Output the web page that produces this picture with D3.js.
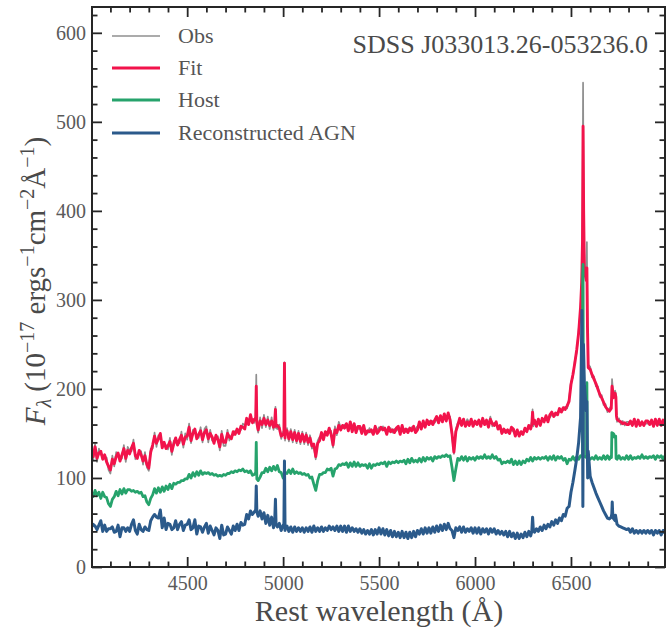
<!DOCTYPE html>
<html>
<head>
<meta charset="utf-8">
<script src="https://cdn.jsdelivr.net/npm/d3@7"></script>
<style>
  body { margin: 0; background: #fff; }
  svg { display: block; }
</style>
</head>
<body>
<svg id="chart" width="666" height="635"></svg>
<script>
// Spectrum sampled every 10 Å from 4000 Å; one row per 100 Å.
const gridStart = 4000;
const gridStep = 10;

const obsFlux = [
  136,120,138,118,133,126,125,122,123,109, // 4000
  105,125,113,129,124,123,122,137,118,135, // 4100
  131,130,143,121,126,127,130,115,129,112, // 4200
  108,133,133,151,135,148,146,138,136,137, // 4300
  132,145,126,142,141,141,139,152,134,150, // 4400
  143,161,139,154,151,148,145,157,140,155, // 4500
  158,140,154,142,143,144,147,131,153,136, // 4600
  136,154,142,148,148,153,151,154,154,161, // 4700
  159,163,164,167,166,162,216,151,168,156, // 4800
  171,157,169,155,168,154,180,155,160,144, // 4900
  152,142,156,141,155,140,154,139,153,138, // 5000
  152,138,151,137,148,133,135,121,142,146, // 5100
  148,147,149,152,153,153,134,158,148,163, // 5200
  157,156,160,158,157,160,156,158,155,155, // 5300
  155,154,156,153,150,156,151,153,155,154, // 5400
  157,154,158,153,153,154,156,151,155,153, // 5500
  155,153,156,155,152,155,153,157,155,155, // 5600
  158,160,159,161,161,162,164,161,164,162, // 5700
  166,166,167,167,169,168,170,169,147,127, // 5800
  155,162,164,162,163,161,166,162,163,161, // 5900
  161,163,162,161,164,163,162,160,169,158, // 6000
  162,160,158,156,153,152,154,151,153,154, // 6100
  152,150,151,150,149,152,153,155,156,158, // 6200
  177,162,161,163,162,164,166,167,166,168, // 6300
  171,172,170,174,175,177,176,180,178,189, // 6400
  208,213,232,241,266,289,368,335,325,227, // 6500
  225,213,214,203,203,191,193,182,183,174, // 6600
  178,181,193,198,163,167,160,164,159,163, // 6700
  163,161,162,163,161,162,162,160,162,161, // 6800
  161,163,162,161,163,162,163,162,162,162  // 6900
];

const fitFlux = [
  131,124,135,122,128,130,121,126,118,113, // 4000
  109,121,116,124,128,119,126,133,122,131, // 4100
  127,134,139,125,122,131,126,119,125,115, // 4200
  111,129,137,147,139,144,150,134,140,133, // 4300
  136,141,130,138,145,137,143,148,138,146, // 4400
  147,157,142,150,155,144,149,153,143,151, // 4500
  154,144,150,146,139,148,143,135,149,140, // 4600
  140,150,146,144,152,149,155,150,158,157, // 4700
  155,167,160,171,162,166,203,154,164,160, // 4800
  167,160,165,159,164,157,177,159,156,147, // 4900
  149,145,153,144,152,143,151,142,150,141, // 5000
  149,141,148,140,145,136,138,124,139,142, // 5100
  151,143,152,148,156,149,137,154,151,159, // 5200
  154,159,156,161,153,163,152,161,151,158, // 5300
  158,150,159,149,153,152,154,149,158,150, // 5400
  153,157,154,156,149,157,152,154,151,156, // 5500
  158,149,159,151,155,151,156,153,158,151, // 5600
  154,163,155,164,157,165,160,164,160,165, // 5700
  169,162,170,163,172,164,173,165,150,129, // 5800
  152,159,167,159,166,158,163,159,166,158, // 5900
  164,160,165,158,167,160,165,157,166,161, // 6000
  159,163,155,159,150,155,151,154,150,157, // 6100
  155,147,154,147,152,149,156,152,159,155, // 6200
  174,165,158,166,159,167,163,170,163,171, // 6300
  174,169,173,171,178,174,179,177,181,186, // 6400
  205,216,229,244,263,292,365,332,322,224, // 6500
  222,216,211,206,200,194,190,185,180,177, // 6600
  175,178,190,195,166,164,163,161,162,160, // 6700
  160,164,159,166,158,165,159,163,159,164, // 6800
  164,160,165,158,166,159,166,159,165,159  // 6900
];

const hostFlux = [
  85,79,86,80,84,77,84,79,78,71,           // 4000
  68,76,79,85,80,87,82,88,83,87,           // 4100
  87,85,86,84,85,83,84,79,80,73,           // 4200
  70,77,81,88,83,89,84,90,85,91,           // 4300
  87,93,88,94,93,95,95,97,97,99,           // 4400
  99,104,100,106,102,107,103,108,104,106,  // 4500
  105,106,104,105,103,104,102,103,102,104, // 4600
  103,105,105,107,106,108,107,109,108,110, // 4700
  107,108,106,108,103,104,140,97,101,106,  // 4800
  106,111,107,112,108,113,109,114,107,106, // 4900
  100,106,105,109,105,110,105,107,105,106, // 5000
  104,105,103,104,100,101,93,86,97,104,    // 5100
  104,106,106,110,109,111,102,110,111,115, // 5200
  114,116,115,117,112,117,113,118,113,117, // 5300
  113,115,114,115,111,116,111,115,114,116, // 5400
  115,117,116,118,113,118,116,118,117,119, // 5500
  117,119,118,120,116,121,117,122,118,120, // 5600
  118,122,118,123,119,123,121,123,119,124, // 5700
  122,124,123,125,124,126,124,125,112,97,  // 5800
  110,122,120,124,120,124,119,123,121,123, // 5900
  120,124,122,124,122,126,122,124,122,126, // 6000
  122,124,120,121,116,118,117,119,117,121, // 6100
  115,119,115,119,115,119,117,121,119,123, // 6200
  119,123,121,123,121,123,122,124,120,124, // 6300
  121,125,120,124,122,124,120,122,116,121, // 6400
  120,124,120,124,121,125,124,124,123,122, // 6500
  121,123,121,125,121,123,121,125,121,125, // 6600
  121,125,150,147,121,125,121,123,121,125, // 6700
  121,125,121,123,122,124,122,126,122,124, // 6800
  122,124,123,125,121,125,123,125,121,125  // 6900
];

const agnFlux = [
  44,48,46,42,47,52,40,47,40,43,           // 4000
  43,45,39,40,47,34,44,44,40,44,           // 4100
  40,48,53,41,37,48,42,40,45,42,           // 4200
  41,52,56,59,56,55,64,44,55,42,           // 4300
  49,48,42,44,52,42,48,51,41,47,           // 4400
  48,53,42,44,53,37,46,45,39,45,           // 4500
  49,38,46,41,36,44,41,32,47,36,           // 4600
  37,45,41,37,46,41,48,41,50,47,           // 4700
  48,59,54,63,59,62,91,57,63,54,           // 4800
  61,49,58,47,56,44,76,45,49,41,           // 4900
  47,41,46,40,45,39,45,40,44,40,           // 5000
  44,39,44,40,45,39,46,40,44,40,           // 5100
  45,40,44,41,46,42,45,41,46,40,           // 5200
  46,40,46,39,46,40,44,40,43,39,           // 5300
  43,38,42,37,41,37,42,36,42,37,           // 5400
  44,37,43,36,42,35,41,34,40,34,           // 5500
  39,33,40,33,39,32,39,33,40,34,           // 5600
  41,37,43,37,44,38,44,38,45,39,           // 5700
  46,40,47,41,48,42,49,43,41,33,           // 5800
  44,41,45,39,45,39,43,40,44,38,           // 5900
  44,38,44,37,43,39,43,37,43,39,           // 6000
  43,37,41,37,40,36,40,34,40,34,           // 6100
  38,32,38,32,37,33,39,34,40,35,           // 6200
  56,39,43,40,45,41,47,43,48,45,           // 6300
  51,47,53,49,55,52,59,57,66,68,           // 6400
  84,95,108,122,140,168,230,205,175,130,   // 6500
  102,95,89,83,78,73,68,63,59,55,          // 6600
  54,56,55,52,48,46,45,44,43,42,           // 6700
  43,39,43,38,41,38,41,38,41,38,           // 6800
  41,38,41,36,41,38,41,36,41,38            // 6900
];

// Narrow lines (Hβ, [O III], [O I], Hα+[N II], [S II]) sampled between grid points: [Å, flux]
const obsLines = [
  [4857,168],[4863,160],[4956,163],[4963,156],[5004,152],[5007,230],[5010,148],
  [6296,163],[6304,158],[6556,325],[6563,544],[6566,405],[6583,365],[6586,275],
  [6714,211],[6718,200],[6726,197],[6734,194],[6737,172]
];
const fitLines = [
  [4857,165],[4863,162],[4956,162],[4963,158],[5004,150],[5007,229],[5010,150],
  [6296,160],[6304,161],[6556,320],[6563,495],[6566,400],[6583,336],[6586,270],
  [6714,203],[6718,197],[6726,194],[6734,191],[6737,170]
];
const hostLines = [
  [4857,106],[4863,99],
  [6561,330],[6563,340],[6565,125],[6581,123],[6583,207],[6585,123],
  [6711,123],[6713,151],[6724,149],[6726,146],[6733,147],[6735,122]
];
const agnLines = [
  [4857,64],[4863,62],[4956,51],[4963,48],[5004,45],[5007,119],[5010,44],
  [6296,40],[6304,41],[6557,288],[6562,68],[6565,250],[6583,186],[6587,100],
  [6713,60],[6715,73],[6717,62],[6732,58]
];

const seriesNames = ["Obs", "Fit", "Host", "Reconstructed AGN"];
const xTickValues = [4500, 5000, 5500, 6000, 6500];
const yTickValues = [0, 100, 200, 300, 400, 500, 600];
const objectName = "SDSS J033013.26-053236.0";

// ---- drawing ----
const colors = ["#8f8f8f", "#f2134b", "#26a36c", "#2b5a8b"];
const widths = [1.7, 2.9, 2.8, 3.0];

function spectrum(base, extra) {
  return base.map((f, i) => [gridStart + i * gridStep, f])
    .concat(extra)
    .sort((a, b) => a[0] - b[0]);
}
const series = [
  spectrum(obsFlux, obsLines),
  spectrum(fitFlux, fitLines),
  spectrum(hostFlux, hostLines),
  spectrum(agnFlux, agnLines)
];

const svg = d3.select("#chart");
const L = 92, R = 665, T = 7, B = 567;
const serif = "'Liberation Serif', 'DejaVu Serif', serif";

const x = d3.scaleLinear().domain([4004, 6990]).range([L, R]);
const y = d3.scaleLinear().domain([0, 629]).range([B, T]);

svg.append("defs").append("clipPath").attr("id", "plotclip")
  .append("rect").attr("x", L).attr("y", T).attr("width", R - L).attr("height", B - T);

const line = d3.line().x(d => x(d[0])).y(d => y(d[1]));
const plot = svg.append("g").attr("clip-path", "url(#plotclip)");
series.forEach((s, i) => {
  plot.append("path").datum(s)
    .attr("d", line)
    .attr("fill", "none")
    .attr("stroke", colors[i])
    .attr("stroke-width", widths[i])
    .attr("stroke-linejoin", "round");
});

// axes with inward ticks on all four sides
const xMinor = d3.range(4100, 7000, 100).filter(v => v % 500 !== 0);
const yMinor = d3.range(0, 629, 20).filter(v => v % 100 !== 0);
const major = 10, minor = 5.5;

function styleAxis(g) {
  g.attr("font-family", null).attr("font-size", null);
  g.select(".domain").remove();
  g.selectAll(".tick line").attr("stroke", "#262626").attr("stroke-width", 1.8);
  g.selectAll(".tick text").attr("fill", "#5a5a5a")
    .style("font-family", serif).style("font-size", "20px");
}

svg.append("g").attr("transform", `translate(0,${B})`)
  .call(d3.axisBottom(x).tickValues(xTickValues).tickFormat(d3.format("d"))
    .tickSizeInner(-major).tickSizeOuter(0).tickPadding(9))
  .call(styleAxis);
svg.append("g").attr("transform", `translate(0,${B})`)
  .call(d3.axisBottom(x).tickValues(xMinor).tickFormat("").tickSizeInner(-minor).tickSizeOuter(0))
  .call(styleAxis);
svg.append("g").attr("transform", `translate(0,${T})`)
  .call(d3.axisTop(x).tickValues(xTickValues).tickFormat("").tickSizeInner(-major).tickSizeOuter(0))
  .call(styleAxis);
svg.append("g").attr("transform", `translate(0,${T})`)
  .call(d3.axisTop(x).tickValues(xMinor).tickFormat("").tickSizeInner(-minor).tickSizeOuter(0))
  .call(styleAxis);

svg.append("g").attr("transform", `translate(${L},0)`)
  .call(d3.axisLeft(y).tickValues(yTickValues).tickFormat(d3.format("d"))
    .tickSizeInner(-major).tickSizeOuter(0).tickPadding(6))
  .call(styleAxis);
svg.append("g").attr("transform", `translate(${L},0)`)
  .call(d3.axisLeft(y).tickValues(yMinor).tickFormat("").tickSizeInner(-minor).tickSizeOuter(0))
  .call(styleAxis);
svg.append("g").attr("transform", `translate(${R},0)`)
  .call(d3.axisRight(y).tickValues(yTickValues).tickFormat("").tickSizeInner(-major).tickSizeOuter(0))
  .call(styleAxis);
svg.append("g").attr("transform", `translate(${R},0)`)
  .call(d3.axisRight(y).tickValues(yMinor).tickFormat("").tickSizeInner(-minor).tickSizeOuter(0))
  .call(styleAxis);

svg.append("rect")
  .attr("x", L).attr("y", T).attr("width", R - L).attr("height", B - T)
  .attr("fill", "none").attr("stroke", "#262626").attr("stroke-width", 2);

// axis titles
svg.append("text")
  .attr("x", (L + R) / 2 + 0.5).attr("y", 621)
  .attr("text-anchor", "middle")
  .attr("fill", "#4a4a4a")
  .style("font-family", serif).style("font-size", "30px")
  .text("Rest wavelength (Å)");

const yl = svg.append("text")
  .attr("transform", "translate(45,281) rotate(-90)")
  .attr("text-anchor", "middle")
  .attr("fill", "#4a4a4a")
  .style("font-family", serif).style("font-size", "29px");
const small = 20, up = 11, sub = 6;
yl.append("tspan").style("font-style", "italic").text("F");
yl.append("tspan").style("font-style", "italic").style("font-size", small + "px").attr("dy", sub).text("λ");
yl.append("tspan").attr("dy", -sub).text(" (10");
yl.append("tspan").style("font-size", small + "px").attr("dy", -up).text("−17");
yl.append("tspan").attr("dy", up).text(" ergs");
yl.append("tspan").style("font-size", small + "px").attr("dy", -up).text("−1");
yl.append("tspan").attr("dy", up).text("cm");
yl.append("tspan").style("font-size", small + "px").attr("dy", -up).text("−2");
yl.append("tspan").attr("dy", up).text("Å");
yl.append("tspan").style("font-size", small + "px").attr("dy", -up).text("−1");
yl.append("tspan").attr("dy", up).text(")");

// legend
const legend = svg.append("g");
const legendY = [36, 68, 100, 133];
seriesNames.forEach((name, i) => {
  legend.append("line")
    .attr("x1", 112).attr("x2", 160)
    .attr("y1", legendY[i]).attr("y2", legendY[i])
    .attr("stroke", colors[i]).attr("stroke-width", widths[i]);
  legend.append("text")
    .attr("x", 178).attr("y", legendY[i]).attr("dy", "0.34em")
    .attr("fill", "#555")
    .style("font-family", serif).style("font-size", "22px")
    .text(name);
});

// object name
svg.append("text")
  .attr("x", 648).attr("y", 53)
  .attr("text-anchor", "end")
  .attr("fill", "#4a4a4a")
  .style("font-family", serif).style("font-size", "26px")
  .text(objectName);
</script>
</body>
</html>
